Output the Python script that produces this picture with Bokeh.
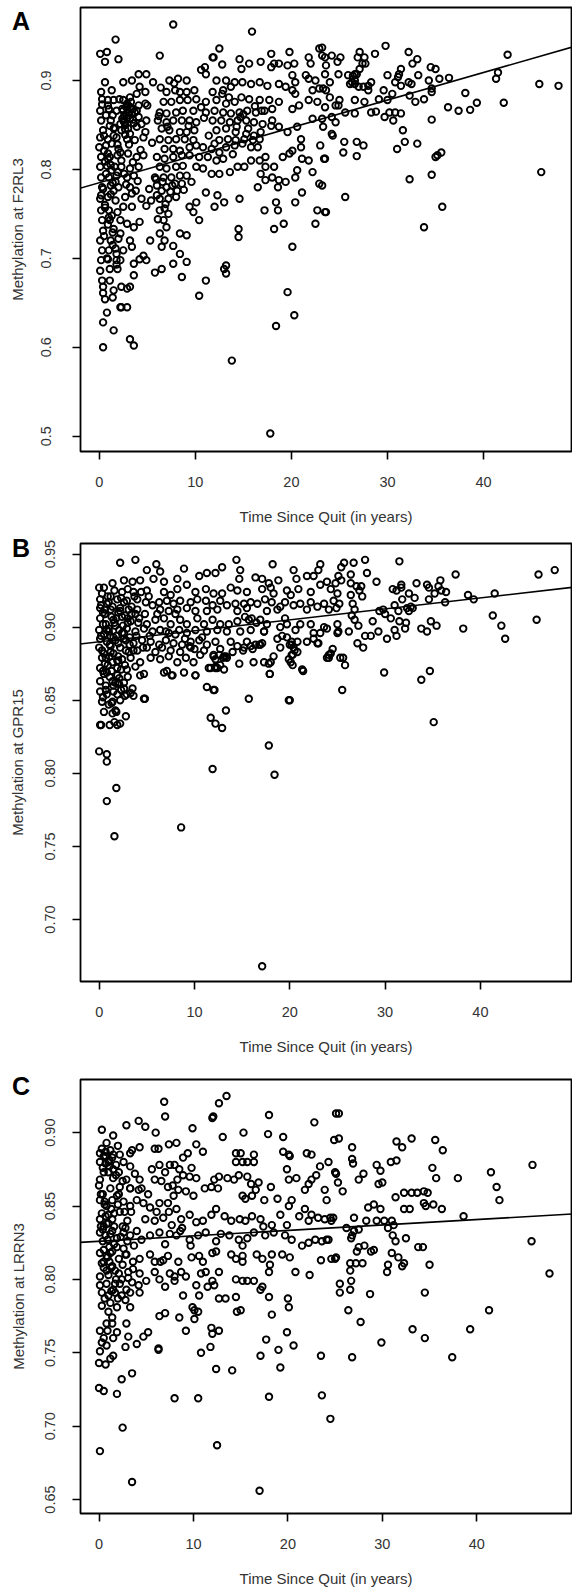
from bokeh.plotting import figure
from bokeh.models import Range1d, FixedTicker, Slope, Div
from bokeh.layouts import column
from bokeh.embed import file_html
from bokeh.resources import INLINE

FONT = "Liberation Sans"

# ---------------- Panel A : F2RL3 ----------------
A_years = [
    0.1, 0.8, 0.6, 2.0, 1.7, 0.6, 1.3, 0.2, 0.3, 0.9,
    1.5, 2.1, 0.1, 1.0, 1.8, 0.2, 1.2, 0.4, 1.5, 0.1,
    0.9, 1.8, 0.0, 0.7, 0.2, 1.1, 1.9, 0.1, 0.8, 1.6,
    0.2, 1.0, 1.8, 0.3, 1.2, 2.0, 0.1, 0.9, 1.7, 0.2,
    1.0, 1.9, 0.3, 1.1, 0.4, 1.5, 0.1, 1.2, 2.0, 0.3,
    1.0, 1.7, 0.2, 0.9, 1.8, 0.1, 1.1, 1.9, 0.3, 1.1,
    0.4, 1.5, 0.6, 1.4, 2.2, 0.8, 0.4, 1.5, 0.4,
    2.8, 3.1, 3.4, 2.6, 3.0, 3.5, 2.9, 3.3, 2.7, 3.6,
    0.5, 0.9, 1.2, 0.7, 1.4, 0.4, 1.2, 0.6, 1.3, 0.9,
    0.5, 1.4, 0.8,
    2.5, 3.4, 4.1, 4.9, 4.2, 5.6, 2.5, 3.2, 3.9, 4.8,
    2.5, 3.2, 4.1, 4.8, 2.5, 3.2, 4.1, 4.9, 2.3, 3.0,
    3.9, 4.8, 2.9, 3.7, 4.6, 2.2, 3.0, 3.9, 4.6, 2.3,
    3.2, 4.1, 2.9, 3.6, 3.2, 2.7, 3.4, 2.5, 3.4, 4.4,
    4.9, 2.2, 2.9, 3.6, 4.2, 2.2, 3.2, 3.4, 2.5, 1.8,
    2.2, 3.6, 4.2, 4.9, 4.6, 2.3, 2.9, 3.2, 2.3, 2.9,
    3.6, 3.2, 3.6, 5.3, 5.8, 6.5,
    6.3, 7.3, 8.2, 9.1, 7.0, 7.9, 8.4, 9.1, 9.9, 6.7,
    7.5, 8.4, 9.2, 10.1, 6.3, 7.0, 8.0, 8.7, 9.8, 6.1,
    7.0, 7.7, 8.6, 9.4, 10.1, 6.5, 7.3, 8.4, 9.1, 9.9,
    6.3, 7.2, 8.0, 8.9, 9.8, 6.8, 7.7, 8.4, 9.4, 10.1,
    6.0, 6.8, 7.7, 8.6, 9.4, 6.3, 7.0, 8.0, 8.7, 5.8,
    6.7, 7.5, 8.4, 9.1, 6.0, 6.5, 7.0, 7.9, 8.6, 5.4,
    6.3, 7.2, 8.0, 6.3, 6.8, 7.2, 6.7, 6.1, 7.0, 6.3,
    6.8, 6.5, 7.7, 8.4, 9.1, 8.4, 9.1, 7.7, 8.6, 9.4,
    10.1, 9.8, 10.4, 11.1, 12.0, 12.3, 13.0, 11.1, 10.4, 14.6,
    11.0, 11.8, 12.5, 11.1, 12.2, 13.2, 14.1, 14.9, 15.8, 16.7,
    17.5, 11.8, 12.9, 13.7, 14.8, 15.6, 16.7, 17.7, 18.7, 11.1,
    12.2, 13.2, 14.1, 11.1, 12.0, 12.9, 13.7, 14.6, 15.4, 16.3,
    17.2, 18.0, 11.8, 12.7, 13.6, 14.4, 15.3, 16.1, 17.0, 18.0,
    18.7, 12.2, 13.2, 14.2, 15.3, 16.1, 16.8, 17.9, 12.5, 13.4,
    14.2, 15.1, 16.0, 16.7, 10.8, 11.7, 12.5, 13.2, 14.1, 14.9,
    15.8, 16.5, 10.4, 11.3, 12.2, 12.9, 10.1, 10.8, 11.7, 12.5,
    13.6, 14.4, 15.1, 15.8, 16.7, 17.3, 18.2, 19.1, 19.8, 16.8,
    17.3, 16.5, 18.0, 18.7, 19.4, 18.6, 20.1, 21.0, 20.6, 20.4,
    21.1, 21.8, 22.2, 22.9, 23.0, 23.4, 21.1, 18.4, 18.6, 17.2,
    18.2, 19.2, 20.4, 20.1, 22.7, 23.6, 22.5, 14.5, 14.5, 13.2,
    13.2, 13.0, 19.6, 20.3, 18.4,
    14.6, 14.8, 15.6, 16.8, 17.9, 17.9, 18.2, 18.7, 19.6, 19.8,
    20.3, 20.1, 20.4, 20.1, 20.4, 21.8, 22.0, 22.9, 23.2, 23.6,
    21.8, 22.5, 22.9, 23.6, 21.8, 22.7, 20.8, 20.1, 22.2, 23.2,
    18.7, 19.4, 21.5, 22.2, 20.6, 19.6, 21.0, 17.3, 7.7, 15.9,
    13.8, 17.8, 12.8, 11.9, 10.6,
    23.2, 23.5, 24.2, 25.1, 24.8, 23.5, 24.9, 24.0, 23.3, 24.0,
    23.5, 24.6, 24.9, 25.6, 24.2, 24.6, 23.3, 24.2, 24.3, 25.5,
    25.4, 26.8, 27.5, 26.8, 23.5, 23.2, 25.6, 23.5, 26.6, 26.4,
    26.8, 26.3, 26.6, 27.1, 26.9, 27.4, 27.7, 27.1, 28.7, 29.8,
    25.9, 26.1, 28.0, 28.3, 28.0, 27.5, 26.6, 26.6, 27.6, 28.3,
    29.1, 29.6, 30.0, 30.0, 29.7, 30.6, 30.2, 30.8, 31.4, 30.5,
    30.8, 31.1, 31.4, 31.2, 31.4, 32.2, 32.6, 33.1, 32.2, 32.5,
    33.2, 32.9, 32.3, 33.8, 34.3, 34.5, 35.0, 34.6, 34.6, 35.4,
    36.4, 34.6, 31.6, 31.8, 31.0, 33.1, 35.0, 35.2, 35.6, 32.3,
    34.6, 35.7, 33.8, 36.3, 37.4, 38.6, 39.3, 38.1, 42.1, 41.3,
    41.5, 42.5, 45.8, 47.8, 46.0, 26.6, 27.0, 25.0, 27.6, 28.8,
]
A_methylation = [
    0.930, 0.932, 0.921, 0.924, 0.946, 0.898, 0.889, 0.887, 0.879, 0.878,
    0.878, 0.879, 0.866, 0.868, 0.866, 0.855, 0.855, 0.844, 0.846, 0.836,
    0.834, 0.836, 0.825, 0.827, 0.814, 0.814, 0.816, 0.803, 0.804, 0.803,
    0.791, 0.791, 0.793, 0.780, 0.782, 0.780, 0.767, 0.769, 0.765, 0.754,
    0.754, 0.752, 0.743, 0.743, 0.731, 0.733, 0.720, 0.720, 0.722, 0.709,
    0.709, 0.711, 0.698, 0.699, 0.698, 0.686, 0.688, 0.688, 0.675, 0.675,
    0.668, 0.664, 0.654, 0.656, 0.645, 0.639, 0.628, 0.619, 0.600,
    0.870, 0.865, 0.862, 0.860, 0.872, 0.868, 0.858, 0.876, 0.850, 0.852,
    0.838, 0.812, 0.805, 0.795, 0.785, 0.778, 0.772, 0.760, 0.748, 0.738,
    0.725, 0.715, 0.700,
    0.898, 0.900, 0.907, 0.907, 0.893, 0.898, 0.878, 0.881, 0.885, 0.887,
    0.866, 0.870, 0.872, 0.874, 0.855, 0.857, 0.859, 0.855, 0.844, 0.846,
    0.848, 0.842, 0.834, 0.833, 0.836, 0.819, 0.818, 0.814, 0.816, 0.803,
    0.801, 0.803, 0.791, 0.793, 0.780, 0.769, 0.773, 0.758, 0.758, 0.767,
    0.759, 0.743, 0.739, 0.735, 0.741, 0.728, 0.720, 0.713, 0.709, 0.705,
    0.698, 0.694, 0.699, 0.698, 0.703, 0.668, 0.666, 0.668, 0.645, 0.645,
    0.681, 0.609, 0.602, 0.720, 0.684, 0.688,
    0.928, 0.900, 0.902, 0.900, 0.887, 0.889, 0.887, 0.887, 0.889, 0.876,
    0.876, 0.878, 0.878, 0.879, 0.864, 0.863, 0.864, 0.866, 0.866, 0.855,
    0.853, 0.855, 0.855, 0.855, 0.853, 0.846, 0.844, 0.842, 0.842, 0.844,
    0.834, 0.833, 0.834, 0.834, 0.833, 0.823, 0.823, 0.821, 0.825, 0.827,
    0.814, 0.812, 0.814, 0.816, 0.816, 0.803, 0.801, 0.803, 0.804, 0.791,
    0.791, 0.791, 0.793, 0.793, 0.782, 0.776, 0.780, 0.784, 0.784, 0.765,
    0.767, 0.767, 0.769, 0.754, 0.756, 0.750, 0.743, 0.744, 0.735, 0.728,
    0.720, 0.713, 0.714, 0.728, 0.726, 0.705, 0.696, 0.694, 0.679, 0.758,
    0.763, 0.752, 0.743, 0.774, 0.758, 0.771, 0.763, 0.675, 0.658, 0.767,
    0.915, 0.926, 0.936, 0.907, 0.900, 0.900, 0.898, 0.898, 0.896, 0.898,
    0.894, 0.887, 0.889, 0.893, 0.881, 0.879, 0.878, 0.878, 0.876, 0.876,
    0.878, 0.874, 0.876, 0.864, 0.866, 0.864, 0.863, 0.864, 0.866, 0.864,
    0.866, 0.868, 0.855, 0.855, 0.853, 0.855, 0.855, 0.853, 0.851, 0.855,
    0.848, 0.844, 0.846, 0.842, 0.840, 0.838, 0.842, 0.849, 0.833, 0.834,
    0.833, 0.834, 0.833, 0.834, 0.825, 0.823, 0.819, 0.825, 0.827, 0.829,
    0.825, 0.825, 0.814, 0.814, 0.810, 0.812, 0.803, 0.801, 0.795, 0.795,
    0.797, 0.803, 0.803, 0.810, 0.810, 0.803, 0.803, 0.814, 0.818, 0.795,
    0.788, 0.780, 0.791, 0.788, 0.786, 0.780, 0.821, 0.825, 0.799, 0.791,
    0.812, 0.810, 0.797, 0.784, 0.827, 0.812, 0.774, 0.763, 0.754, 0.754,
    0.733, 0.739, 0.763, 0.713, 0.754, 0.752, 0.739, 0.733, 0.724, 0.692,
    0.683, 0.688, 0.662, 0.636, 0.624,
    0.924, 0.913, 0.919, 0.921, 0.930, 0.915, 0.919, 0.919, 0.917, 0.932,
    0.919, 0.906, 0.898, 0.889, 0.885, 0.926, 0.919, 0.936, 0.928, 0.917,
    0.902, 0.900, 0.891, 0.889, 0.878, 0.876, 0.872, 0.868, 0.857, 0.857,
    0.896, 0.893, 0.906, 0.889, 0.848, 0.842, 0.834, 0.814, 0.963, 0.955,
    0.585, 0.503, 0.918, 0.926, 0.912,
    0.937, 0.926, 0.928, 0.926, 0.921, 0.907, 0.907, 0.898, 0.891, 0.881,
    0.870, 0.872, 0.872, 0.864, 0.859, 0.853, 0.848, 0.840, 0.838, 0.831,
    0.819, 0.831, 0.827, 0.815, 0.812, 0.782, 0.769, 0.752, 0.907, 0.905,
    0.907, 0.898, 0.896, 0.932, 0.926, 0.919, 0.919, 0.913, 0.930, 0.939,
    0.906, 0.896, 0.894, 0.898, 0.889, 0.893, 0.878, 0.863, 0.876, 0.864,
    0.879, 0.889, 0.906, 0.878, 0.859, 0.855, 0.864, 0.864, 0.863, 0.885,
    0.898, 0.904, 0.913, 0.907, 0.894, 0.932, 0.919, 0.924, 0.898, 0.896,
    0.906, 0.876, 0.883, 0.879, 0.900, 0.915, 0.913, 0.891, 0.887, 0.902,
    0.903, 0.856, 0.844, 0.831, 0.823, 0.829, 0.814, 0.816, 0.819, 0.789,
    0.794, 0.758, 0.735, 0.870, 0.866, 0.867, 0.875, 0.886, 0.875, 0.902,
    0.909, 0.929, 0.896, 0.894, 0.797, 0.900, 0.893, 0.878, 0.926, 0.865,
]
# extra points read in the densest part of panel A
A_years_dense = [
    1.4, 2.4, 3.9, 1.6, 2.7, 4.4, 1.3, 2.0, 3.1, 4.3,
    0.6, 2.3, 3.5, 1.9, 2.6, 4.0, 1.5, 2.8, 3.8, 0.9,
    5.9, 6.6, 7.4, 8.1, 5.2, 6.0, 6.9, 7.6, 8.8, 9.6,
    5.5, 6.2, 7.1, 5.0, 6.4, 7.8, 9.3, 10.6, 11.4, 12.8,
    13.5, 14.3, 15.0, 16.2, 13.9, 15.5, 10.9, 12.0, 14.7, 16.9,
    2.4, 2.9, 3.3, 3.7, 2.6, 3.1, 3.5, 2.2, 2.7, 3.2,
    0.3, 0.7, 1.1, 1.5, 1.9, 0.5, 0.9, 1.3, 1.7, 0.2,
    0.6, 1.0, 1.4, 1.8, 0.4,
]
A_methylation_dense = [
    0.861, 0.857, 0.866, 0.847, 0.839, 0.851, 0.829, 0.823, 0.828, 0.822,
    0.809, 0.810, 0.808, 0.797, 0.795, 0.787, 0.776, 0.783, 0.776, 0.872,
    0.789, 0.786, 0.775, 0.776, 0.778, 0.771, 0.761, 0.782, 0.777, 0.786,
    0.830, 0.860, 0.848, 0.872, 0.892, 0.897, 0.849, 0.870, 0.838, 0.885,
    0.881, 0.848, 0.862, 0.871, 0.817, 0.846, 0.858, 0.829, 0.859, 0.866,
    0.868, 0.874, 0.869, 0.864, 0.853, 0.861, 0.856, 0.851, 0.845, 0.840,
    0.873, 0.861, 0.849, 0.838, 0.828, 0.821, 0.818, 0.799, 0.786, 0.771,
    0.757, 0.746, 0.729, 0.693, 0.661,
]

# ---------------- Panel B : GPR15 ----------------
B_years = [
    2.2, 3.8, 6.0, 6.4, 5.0, 5.7, 6.8, 8.2, 8.9, 10.5,
    11.3, 12.2, 12.9, 14.4, 14.8, 14.7, 16.4, 17.1, 18.2, 17.8,
    18.8, 20.4, 20.7, 21.8, 22.5, 23.0, 23.2, 23.9, 24.8, 25.1,
    0.0, 0.5, 1.4, 2.6, 3.5, 4.3, 2.4, 5.0, 6.8, 7.5,
    8.2, 9.2, 10.1, 11.2, 12.0, 12.9, 13.8, 14.5, 15.5, 17.1,
    18.0, 18.3, 19.7, 20.9, 22.2, 23.2, 24.3, 25.0, 20.1, 3.6,
    0.1, 0.8, 1.9, 2.9, 4.0, 4.9, 5.6, 6.3, 7.1, 7.8,
    8.5, 9.6, 10.3, 11.2, 11.9, 12.7, 13.4, 14.3, 15.2, 15.9,
    16.6, 17.4, 18.1, 19.0, 19.5, 20.4, 21.1, 22.2, 22.9, 23.6,
    24.6, 0.1, 1.2, 2.2, 3.1, 4.0, 6.4, 7.3, 8.2, 9.2,
    10.1, 11.3, 12.4, 14.5, 15.5, 17.6, 18.7, 21.8, 24.1, 1.2,
    0.1, 0.7, 1.5, 2.4, 3.3, 4.2, 5.0, 5.9, 6.8, 7.5,
    8.5, 9.2, 10.3, 11.0, 11.9, 12.7, 13.6, 14.5, 15.3, 15.7,
    16.0, 16.9, 17.6, 19.0, 19.7, 21.1, 22.2, 23.6, 25.0, 0.0,
    1.0, 2.1, 2.9, 3.8, 4.7, 5.6, 6.4, 7.3, 8.4, 9.2,
    10.1, 11.3, 12.4, 13.4, 14.8, 15.9, 17.3, 19.2, 20.6, 22.5,
    23.9, 0.4, 1.7, 3.0, 2.6,
    0.1, 0.8, 1.7, 2.6, 3.6, 4.5, 5.4, 6.3, 7.0, 7.8,
    8.7, 9.6, 10.5, 11.3, 12.2, 12.7, 13.8, 14.5, 15.5, 16.4,
    17.1, 18.7, 19.7, 20.2, 20.8, 21.8, 22.5, 0.0, 1.2, 2.2,
    3.1, 4.0, 5.0, 5.9, 6.6, 7.5, 8.5, 9.6, 11.0, 12.0,
    13.1, 14.0, 15.2, 15.9, 16.9, 19.0, 20.4, 22.9, 0.5, 1.5,
    0.3, 1.4, 2.4, 3.3, 4.3, 5.4, 6.4, 7.3, 8.2, 9.1,
    9.9, 10.6, 12.0, 13.4, 12.2, 12.7, 13.1, 0.1, 0.8, 1.9,
    2.9, 3.8, 4.3, 4.7, 6.8, 7.7, 8.9, 10.1, 11.5, 12.4,
    13.3, 14.7, 16.2, 17.3, 18.3, 19.9, 20.2, 21.3, 20.8, 24.1,
    23.9, 23.0, 25.3, 24.3, 23.2, 25.0, 1.1, 2.0, 0.6, 3.0,
    0.1, 0.7, 1.4, 2.1, 0.1, 0.8, 1.5, 2.6, 3.3, 3.5,
    4.7, 0.3, 1.0, 1.4, 1.7, 0.5, 1.4, 2.8, 0.1, 1.6,
    2.2, 1.9, 2.9, 2.2, 11.3, 12.0, 15.7, 11.7, 12.2, 12.9,
    13.3, 17.8, 17.9, 19.9, 17.8, 0.0, 0.8, 0.8, 0.2, 0.8,
    1.8, 1.6, 11.9, 8.6, 18.4, 17.1, 1.1, 1.9, 12.1, 20.0,
    2.0, 1.8, 1.3, 0.4, 3.6, 2.7, 4.8, 7.1, 7.6, 10.1,
    25.5, 25.6, 25.8, 24.5, 24.1, 21.4, 20.3, 20.1, 20.3, 20.5,
    20.0, 17.9, 18.0, 17.3, 16.8, 16.1, 15.1, 13.0, 12.6, 12.2,
    12.2, 11.7, 20.2, 16.5, 19.5,
    25.4, 25.7, 26.7, 27.9, 26.4, 28.1, 25.4, 26.4, 27.0, 27.5,
    27.3, 27.6, 26.4, 26.6, 26.8, 26.5, 26.8, 27.2, 25.2, 24.9,
    25.1, 26.2, 27.1, 27.7, 27.9, 28.5, 28.7, 29.1, 29.4, 29.8,
    30.0, 30.2, 29.3, 29.9, 30.6, 30.8, 31.0, 31.2, 31.5, 31.7,
    31.7, 31.4, 31.5, 31.2, 31.0, 32.2, 32.1, 32.3, 32.5, 32.7,
    32.9, 33.1, 33.3, 32.5, 31.8, 33.8, 34.4, 34.4, 34.6, 34.8,
    35.4, 34.6, 35.2, 35.6, 35.8, 35.9, 36.4, 36.3, 33.8, 34.7,
    35.1, 37.4, 38.2, 38.7, 39.3, 41.3, 41.5, 42.2, 42.6, 45.9,
    46.1, 47.8, 9.5, 10.8, 8.0,
]
B_methylation = [
    0.944, 0.946, 0.943, 0.938, 0.939, 0.933, 0.931, 0.933, 0.940, 0.935,
    0.937, 0.937, 0.941, 0.946, 0.939, 0.933, 0.934, 0.933, 0.943, 0.930,
    0.932, 0.939, 0.933, 0.935, 0.935, 0.939, 0.943, 0.931, 0.930, 0.935,
    0.927, 0.927, 0.930, 0.932, 0.931, 0.932, 0.924, 0.925, 0.924, 0.922,
    0.926, 0.929, 0.924, 0.926, 0.923, 0.923, 0.927, 0.925, 0.924, 0.926,
    0.927, 0.923, 0.925, 0.926, 0.924, 0.929, 0.926, 0.923, 0.922, 0.924,
    0.919, 0.916, 0.919, 0.918, 0.919, 0.917, 0.915, 0.917, 0.918, 0.916,
    0.918, 0.917, 0.919, 0.918, 0.915, 0.918, 0.915, 0.916, 0.916, 0.917,
    0.916, 0.919, 0.917, 0.914, 0.917, 0.915, 0.916, 0.917, 0.914, 0.916,
    0.918, 0.913, 0.912, 0.913, 0.912, 0.912, 0.912, 0.911, 0.912, 0.913,
    0.911, 0.911, 0.912, 0.911, 0.913, 0.911, 0.912, 0.912, 0.912, 0.921,
    0.906, 0.902, 0.905, 0.907, 0.904, 0.906, 0.902, 0.905, 0.906, 0.902,
    0.905, 0.902, 0.906, 0.902, 0.905, 0.902, 0.902, 0.904, 0.907, 0.905,
    0.906, 0.905, 0.902, 0.900, 0.902, 0.902, 0.902, 0.900, 0.902, 0.898,
    0.897, 0.898, 0.899, 0.897, 0.899, 0.897, 0.898, 0.896, 0.898, 0.896,
    0.898, 0.897, 0.898, 0.897, 0.897, 0.898, 0.897, 0.894, 0.898, 0.896,
    0.899, 0.910, 0.901, 0.903, 0.896,
    0.892, 0.890, 0.891, 0.892, 0.889, 0.891, 0.890, 0.888, 0.891, 0.889,
    0.888, 0.890, 0.891, 0.888, 0.890, 0.885, 0.890, 0.887, 0.890, 0.888,
    0.889, 0.892, 0.893, 0.888, 0.890, 0.890, 0.892, 0.886, 0.883, 0.886,
    0.883, 0.884, 0.886, 0.883, 0.886, 0.884, 0.883, 0.886, 0.884, 0.881,
    0.880, 0.883, 0.886, 0.887, 0.888, 0.886, 0.886, 0.889, 0.895, 0.893,
    0.879, 0.876, 0.878, 0.879, 0.876, 0.879, 0.878, 0.880, 0.876, 0.879,
    0.876, 0.881, 0.880, 0.879, 0.873, 0.874, 0.871, 0.872, 0.869, 0.872,
    0.871, 0.873, 0.867, 0.868, 0.869, 0.867, 0.869, 0.867, 0.872, 0.872,
    0.880, 0.875, 0.876, 0.876, 0.880, 0.878, 0.881, 0.871, 0.883, 0.881,
    0.879, 0.889, 0.879, 0.882, 0.896, 0.896, 0.880, 0.877, 0.875, 0.866,
    0.863, 0.860, 0.863, 0.861, 0.856, 0.854, 0.856, 0.858, 0.855, 0.858,
    0.851, 0.849, 0.847, 0.849, 0.843, 0.842, 0.841, 0.839, 0.833, 0.835,
    0.834, 0.854, 0.854, 0.850, 0.859, 0.857, 0.851, 0.838, 0.834, 0.831,
    0.843, 0.875, 0.868, 0.850, 0.819, 0.815, 0.813, 0.808, 0.833, 0.781,
    0.790, 0.757, 0.803, 0.763, 0.799, 0.668, 0.833, 0.833, 0.857, 0.850,
    0.862, 0.842, 0.848, 0.852, 0.853, 0.853, 0.851, 0.870, 0.867, 0.867,
    0.857, 0.879, 0.874, 0.885, 0.879, 0.870, 0.874, 0.876, 0.881, 0.884,
    0.888, 0.868, 0.876, 0.897, 0.888, 0.885, 0.884, 0.879, 0.881, 0.878,
    0.872, 0.872, 0.890, 0.903, 0.906,
    0.941, 0.944, 0.944, 0.946, 0.936, 0.937, 0.932, 0.930, 0.928, 0.928,
    0.925, 0.921, 0.922, 0.916, 0.912, 0.908, 0.905, 0.901, 0.916, 0.913,
    0.897, 0.897, 0.889, 0.886, 0.894, 0.894, 0.904, 0.931, 0.911, 0.912,
    0.909, 0.892, 0.897, 0.869, 0.906, 0.926, 0.915, 0.925, 0.945, 0.929,
    0.927, 0.911, 0.904, 0.894, 0.898, 0.903, 0.899, 0.913, 0.911, 0.914,
    0.913, 0.920, 0.930, 0.923, 0.919, 0.899, 0.897, 0.929, 0.927, 0.904,
    0.901, 0.919, 0.923, 0.928, 0.932, 0.925, 0.924, 0.917, 0.864, 0.870,
    0.835, 0.936, 0.899, 0.922, 0.919, 0.908, 0.923, 0.901, 0.892, 0.905,
    0.936, 0.939, 0.887, 0.893, 0.895,
]
B_years_dense = [
    0.3, 0.9, 1.6, 2.3, 3.0, 3.7, 4.4, 5.2, 0.6, 1.3,
    2.0, 2.7, 3.4, 4.1, 4.8, 0.2, 1.0, 1.8, 2.5, 3.2,
    3.9, 4.6, 5.3, 0.5, 1.2, 2.0, 2.8, 3.6, 0.4, 1.1,
    1.9, 2.6, 0.7, 1.5, 2.3, 6.1, 7.0, 8.0, 9.0, 10.0,
    0.2, 0.6, 1.0, 1.4, 1.8, 2.2, 2.6, 3.0, 3.4, 3.8,
    0.4, 0.8, 1.2, 1.6, 2.0, 2.4, 2.8, 3.2, 0.3, 0.7,
    1.1, 1.5, 1.9, 2.3, 2.7, 0.5, 0.9, 1.3, 1.7, 2.1,
]
B_methylation_dense = [
    0.923, 0.921, 0.925, 0.920, 0.926, 0.921, 0.924, 0.921, 0.909, 0.907,
    0.910, 0.908, 0.909, 0.903, 0.909, 0.894, 0.899, 0.894, 0.901, 0.893,
    0.894, 0.886, 0.894, 0.882, 0.887, 0.880, 0.884, 0.884, 0.870, 0.866,
    0.867, 0.862, 0.857, 0.860, 0.857, 0.909, 0.897, 0.909, 0.892, 0.885,
    0.915, 0.912, 0.917, 0.914, 0.906, 0.911, 0.917, 0.906, 0.914, 0.909,
    0.902, 0.898, 0.894, 0.903, 0.889, 0.896, 0.891, 0.888, 0.884, 0.879,
    0.888, 0.882, 0.877, 0.871, 0.874, 0.868, 0.874, 0.870, 0.862, 0.865,
]

# ---------------- Panel C : LRRN3 ----------------
C_years = [
    6.9, 12.7, 7.0, 12.1, 18.0, 22.8, 9.9, 15.3, 17.9, 13.1,
    19.5, 25.1, 24.9, 0.3, 1.5, 0.8, 2.9, 4.2, 4.9, 6.0,
    13.5, 12.0, 0.1, 1.2, 1.5, 2.2, 3.3, 3.5, 4.3, 5.9,
    6.3, 7.4, 8.2, 10.3, 14.5, 15.0, 14.5, 15.2, 15.7, 16.4,
    16.4, 19.5, 20.1, 20.2, 22.0, 22.5, 24.3, 23.4, 11.0, 8.9,
    9.4, 0.5, 1.0, 2.0, 0.7,
    0.1, 0.5, 0.1, 0.0, 0.7, 1.4, 1.0, 1.5, 2.1, 2.6,
    3.3, 3.8, 4.3, 2.9, 2.2, 3.3, 4.2, 5.6, 6.4, 7.0,
    7.5, 8.0, 8.5, 8.9, 9.8, 9.6, 10.3, 5.9, 6.6, 7.3,
    7.8, 8.4, 9.2, 10.0, 11.2, 11.9, 12.6, 12.2, 12.7, 13.6,
    14.3, 14.8, 15.7, 16.1, 16.9, 16.6, 15.2, 15.5, 16.2, 17.5,
    18.2, 18.9, 19.9, 20.1, 20.9, 21.8, 22.2, 22.5, 23.0, 23.9,
    24.1, 25.1, 1.8, 0.4, 1.2,
    0.1, 0.3, 0.1, 0.7, 0.8, 1.4, 1.9, 2.6, 3.3, 4.0,
    4.7, 5.4, 6.4, 7.3, 8.2, 8.7, 9.6, 10.3, 4.9, 5.9,
    6.8, 7.7, 11.0, 11.9, 12.4, 13.3, 14.0, 14.9, 15.5, 16.2,
    17.1, 17.4, 18.3, 19.2, 19.9, 20.1, 20.4, 21.2, 21.8, 22.2,
    22.5, 23.2, 23.9, 24.8, 1.0, 2.2, 3.0, 1.6, 0.5, 2.8,
    0.1, 0.7, 1.4, 1.9, 2.6, 3.3, 4.0, 4.5, 5.4, 6.4,
    7.5, 8.2, 8.6, 9.6, 10.5, 11.3, 12.4, 12.9, 13.8, 14.8,
    15.2, 15.7, 16.4, 17.6, 18.5, 19.7, 20.4, 21.5, 22.2, 22.9,
    23.6, 24.3, 25.0, 0.4, 1.1,
    0.1, 0.8, 1.4, 2.1, 2.8, 3.6, 4.3, 5.4, 5.9, 6.8,
    7.3, 8.4, 9.8, 10.6, 11.0, 12.0, 12.4, 14.0, 14.5, 15.2,
    15.2, 16.7, 17.3, 18.3, 19.4, 20.2, 20.8, 22.3, 0.1, 0.8,
    1.4, 2.1, 3.1, 3.6, 4.3, 5.0, 5.9, 7.5, 8.0, 8.7,
    10.8, 11.3, 12.0, 12.7, 14.5, 15.2, 15.7, 16.4, 17.1, 18.0,
    18.1, 1.1, 0.5, 1.8, 2.5,
    0.1, 0.8, 1.5, 2.2, 2.9, 3.5, 4.2, 0.3, 1.0, 1.7,
    2.4, 3.3, 4.3, 0.3, 1.2, 1.9, 2.8, 3.3, 1.0, 1.4,
    6.4, 7.0, 8.0, 8.9, 10.3, 10.6, 11.5, 12.2, 12.7, 13.4,
    14.5, 17.3, 18.0, 20.0, 20.1,
    6.4, 7.0, 8.5, 9.9, 10.1, 10.5, 10.1, 14.6, 15.0, 18.3,
    0.1, 0.5, 0.8, 0.1, 0.0, 0.7, 1.5, 1.9, 2.9, 3.1,
    2.8, 4.0, 4.7, 5.2, 6.3, 9.2, 11.9, 12.0, 12.7, 10.8,
    11.8, 17.1, 17.7, 19.0, 19.9, 20.6, 19.2, 12.4, 14.1, 23.5,
    2.4, 3.5, 0.0, 0.5, 1.9, 8.0, 10.5, 18.0, 23.6, 0.1,
    2.5, 3.5, 12.5, 17.0, 24.5, 6.3, 1.2, 0.3, 1.4, 0.9,
    25.4, 25.4, 26.8, 26.8, 26.9, 25.0, 25.3, 25.8, 28.0, 27.5,
    29.4, 29.8, 29.6, 29.1, 29.8, 30.9, 31.5, 31.5, 32.1, 33.1,
    31.4, 32.3, 33.1, 33.7, 34.4, 34.8, 32.3, 32.9, 34.4, 34.6,
    35.4, 36.3, 35.3, 35.7, 35.6, 36.4, 38.0, 38.6, 41.5, 42.1,
    42.4, 45.9, 45.8, 47.7, 41.3, 39.3, 37.4, 34.5, 33.2, 34.5,
    35.0, 32.5, 31.4, 31.1, 30.6, 30.2, 31.0, 31.2, 29.4, 28.3,
    30.6, 30.5, 32.1, 32.3, 31.0, 31.7, 33.8, 34.3, 29.1, 28.1,
    27.5, 27.3, 27.9, 27.2, 26.6, 26.6, 26.7, 26.6, 25.5, 25.5,
    28.7, 26.4, 27.7, 26.8, 29.9, 26.8, 26.7, 27.0, 26.2, 27.0,
    27.5, 24.6, 24.5, 24.1, 23.5, 24.6, 25.1, 28.8, 30.0, 28.5,
]
C_methylation = [
    0.921, 0.920, 0.911, 0.911, 0.912, 0.907, 0.903, 0.900, 0.899, 0.897,
    0.897, 0.913, 0.895, 0.902, 0.898, 0.893, 0.905, 0.908, 0.904, 0.900,
    0.925, 0.910, 0.886, 0.888, 0.885, 0.885, 0.886, 0.888, 0.890, 0.889,
    0.889, 0.892, 0.893, 0.892, 0.886, 0.886, 0.880, 0.880, 0.880, 0.880,
    0.885, 0.887, 0.885, 0.884, 0.886, 0.885, 0.880, 0.877, 0.887, 0.883,
    0.886, 0.884, 0.880, 0.891, 0.887,
    0.880, 0.873, 0.868, 0.864, 0.879, 0.883, 0.873, 0.869, 0.873, 0.880,
    0.877, 0.872, 0.868, 0.868, 0.863, 0.862, 0.861, 0.875, 0.878, 0.873,
    0.878, 0.878, 0.875, 0.871, 0.876, 0.870, 0.869, 0.868, 0.867, 0.863,
    0.864, 0.861, 0.860, 0.857, 0.862, 0.863, 0.862, 0.868, 0.870, 0.869,
    0.868, 0.871, 0.870, 0.865, 0.866, 0.861, 0.857, 0.855, 0.857, 0.854,
    0.863, 0.855, 0.875, 0.868, 0.869, 0.861, 0.865, 0.868, 0.871, 0.861,
    0.854, 0.872, 0.878, 0.858, 0.862,
    0.854, 0.845, 0.841, 0.843, 0.850, 0.854, 0.857, 0.853, 0.850, 0.854,
    0.852, 0.849, 0.852, 0.852, 0.848, 0.841, 0.844, 0.839, 0.841, 0.840,
    0.842, 0.837, 0.840, 0.844, 0.848, 0.843, 0.840, 0.841, 0.840, 0.843,
    0.841, 0.836, 0.837, 0.844, 0.837, 0.850, 0.854, 0.843, 0.848, 0.840,
    0.844, 0.842, 0.841, 0.842, 0.838, 0.846, 0.840, 0.845, 0.836, 0.835,
    0.832, 0.830, 0.833, 0.828, 0.832, 0.830, 0.833, 0.827, 0.830, 0.832,
    0.831, 0.830, 0.833, 0.827, 0.830, 0.832, 0.826, 0.831, 0.830, 0.827,
    0.823, 0.828, 0.832, 0.830, 0.832, 0.830, 0.827, 0.823, 0.825, 0.827,
    0.826, 0.827, 0.814, 0.826, 0.822,
    0.818, 0.816, 0.819, 0.814, 0.817, 0.812, 0.814, 0.817, 0.812, 0.813,
    0.816, 0.812, 0.815, 0.816, 0.812, 0.818, 0.819, 0.817, 0.814, 0.816,
    0.812, 0.817, 0.814, 0.817, 0.817, 0.815, 0.805, 0.803, 0.802, 0.806,
    0.809, 0.804, 0.805, 0.807, 0.804, 0.799, 0.805, 0.804, 0.799, 0.805,
    0.804, 0.805, 0.799, 0.805, 0.800, 0.799, 0.799, 0.799, 0.793, 0.805,
    0.810, 0.812, 0.808, 0.800, 0.810,
    0.796, 0.797, 0.793, 0.797, 0.793, 0.798, 0.796, 0.791, 0.789, 0.791,
    0.789, 0.791, 0.791, 0.782, 0.784, 0.781, 0.786, 0.781, 0.778, 0.774,
    0.800, 0.795, 0.802, 0.789, 0.796, 0.789, 0.795, 0.796, 0.787, 0.787,
    0.788, 0.795, 0.788, 0.787, 0.781,
    0.775, 0.777, 0.774, 0.781, 0.779, 0.778, 0.773, 0.778, 0.779, 0.776,
    0.765, 0.760, 0.755, 0.751, 0.743, 0.742, 0.748, 0.764, 0.770, 0.761,
    0.754, 0.756, 0.761, 0.764, 0.753, 0.765, 0.767, 0.763, 0.765, 0.750,
    0.754, 0.748, 0.759, 0.752, 0.764, 0.755, 0.740, 0.739, 0.738, 0.748,
    0.732, 0.736, 0.726, 0.724, 0.722, 0.719, 0.719, 0.720, 0.721, 0.683,
    0.699, 0.662, 0.687, 0.656, 0.705, 0.752, 0.746, 0.757, 0.770, 0.765,
    0.913, 0.896, 0.890, 0.882, 0.879, 0.873, 0.866, 0.860, 0.872, 0.868,
    0.878, 0.874, 0.865, 0.851, 0.848, 0.880, 0.881, 0.894, 0.890, 0.896,
    0.856, 0.859, 0.859, 0.859, 0.860, 0.859, 0.848, 0.848, 0.852, 0.850,
    0.851, 0.848, 0.876, 0.869, 0.895, 0.888, 0.869, 0.843, 0.873, 0.863,
    0.854, 0.878, 0.826, 0.804, 0.779, 0.766, 0.747, 0.760, 0.766, 0.791,
    0.810, 0.828, 0.826, 0.830, 0.835, 0.840, 0.840, 0.837, 0.840, 0.840,
    0.810, 0.805, 0.809, 0.811, 0.818, 0.815, 0.822, 0.822, 0.820, 0.823,
    0.822, 0.819, 0.811, 0.811, 0.811, 0.806, 0.799, 0.793, 0.797, 0.791,
    0.790, 0.779, 0.771, 0.747, 0.757, 0.830, 0.828, 0.842, 0.835, 0.833,
    0.834, 0.840, 0.842, 0.827, 0.813, 0.814, 0.815, 0.819, 0.866, 0.849,
]
C_years_dense = [
    0.4, 1.1, 1.8, 2.5, 0.6, 1.3, 2.0, 2.7, 3.4, 0.2,
    0.9, 1.6, 2.3, 3.0, 3.7, 0.5, 1.2, 1.9, 2.6, 0.3,
    1.0, 1.7, 2.4, 3.1, 0.6, 1.3, 2.0, 0.8, 1.5, 4.5,
    5.2, 6.1, 7.0, 7.9, 8.8, 9.7, 6.5, 7.4, 8.3, 9.2,
    0.3, 0.7, 1.1, 1.5, 0.2, 0.6, 1.0, 1.4, 0.4, 0.8,
    1.2, 1.6, 0.5, 0.9, 1.3, 1.7, 2.1, 2.5, 2.9, 3.3,
]
C_methylation_dense = [
    0.876, 0.877, 0.871, 0.867, 0.851, 0.848, 0.851, 0.846, 0.846, 0.836,
    0.827, 0.836, 0.829, 0.826, 0.823, 0.820, 0.818, 0.822, 0.821, 0.811,
    0.803, 0.806, 0.800, 0.801, 0.787, 0.792, 0.787, 0.770, 0.760, 0.862,
    0.858, 0.846, 0.824, 0.857, 0.835, 0.823, 0.812, 0.846, 0.868, 0.802,
    0.889, 0.884, 0.881, 0.875, 0.858, 0.853, 0.844, 0.841, 0.834, 0.838,
    0.831, 0.824, 0.812, 0.815, 0.808, 0.797, 0.858, 0.836, 0.817, 0.862,
]

# axis ticks and labels
X_TICKS = [0, 10, 20, 30, 40]
A_Y_TICKS = [0.5, 0.6, 0.7, 0.8, 0.9]
A_Y_LABELS = ["0.5", "0.6", "0.7", "0.8", "0.9"]
B_Y_TICKS = [0.70, 0.75, 0.80, 0.85, 0.90, 0.95]
B_Y_LABELS = ["0.70", "0.75", "0.80", "0.85", "0.90", "0.95"]
C_Y_TICKS = [0.65, 0.70, 0.75, 0.80, 0.85, 0.90]
C_Y_LABELS = ["0.65", "0.70", "0.75", "0.80", "0.85", "0.90"]
X_TITLE = "Time Since Quit (in years)"

# fitted regression lines (intercept, slope)
A_FIT = (0.785, 0.0031)
B_FIT = (0.890, 0.00075)
C_FIT = (0.826, 0.00037)

for xs, ys in ((A_years, A_methylation), (B_years, B_methylation),
               (C_years, C_methylation), (A_years_dense, A_methylation_dense),
               (B_years_dense, B_methylation_dense),
               (C_years_dense, C_methylation_dense)):
    assert len(xs) == len(ys), (len(xs), len(ys))


def panel(xs, ys, gene, yticks, ylabels, fit, xr, yr, W, H, bl, bt, bb,
          ystand, ytitle_stand, xstand, xtitle_stand):
    p = figure(width=W, height=H, x_range=Range1d(*xr), y_range=Range1d(*yr),
               output_backend="svg", toolbar_location=None,
               min_border_left=bl, min_border_right=1, min_border_top=bt,
               min_border_bottom=bb)
    p.grid.visible = False
    p.background_fill_color = "white"
    p.border_fill_color = None
    p.outline_line_color = "black"
    p.outline_line_width = 1.8

    for ax in (p.xaxis[0], p.yaxis[0]):
        ax.axis_line_color = None
        ax.major_tick_in = 0
        ax.major_tick_out = 8
        ax.major_tick_line_width = 1.6
        ax.major_tick_line_color = "black"
        ax.minor_tick_line_color = None
        ax.major_label_text_font = FONT
        ax.major_label_text_font_size = "14.5px"
        ax.major_label_text_color = "#333333"
        ax.axis_label_text_font = FONT
        ax.axis_label_text_font_size = "15px"
        ax.axis_label_text_font_style = "normal"
        ax.axis_label_text_color = "#333333"

    p.xaxis.ticker = FixedTicker(ticks=X_TICKS, minor_ticks=[])
    p.xaxis.major_label_overrides = {t: str(t) for t in X_TICKS}
    p.xaxis.axis_label = X_TITLE
    p.xaxis.major_label_standoff = xstand
    p.xaxis.axis_label_standoff = xtitle_stand

    p.yaxis.ticker = FixedTicker(ticks=yticks, minor_ticks=[])
    p.yaxis.major_label_overrides = dict(zip(yticks, ylabels))
    p.yaxis.major_label_orientation = "vertical"
    p.yaxis.axis_label = "Methylation at " + gene
    p.yaxis.major_label_standoff = ystand
    p.yaxis.axis_label_standoff = ytitle_stand

    p.scatter(xs, ys, marker="circle", size=6.5, fill_color=None,
              line_color="black", line_width=1.9)
    p.add_layout(Slope(gradient=fit[1], y_intercept=fit[0],
                       line_color="black", line_width=1.6))
    return p


def letter(text, fig_height, top_offset):
    # panel letter drawn over the figure's left border (zero net height)
    h = 30
    return Div(text=('<div style="font-family:\'Liberation Sans\',Arial,sans-serif;'
                     'font-weight:bold;font-size:25px;line-height:25px;'
                     'color:#000;">' + text + '</div>'),
               width=30, height=h,
               margin=(-(fig_height - top_offset), 0,
                       fig_height - top_offset - h, 12))


W = 572
HA, HB, HC = 528, 535, 526
pa = panel(A_years + A_years_dense, A_methylation + A_methylation_dense,
           "F2RL3", A_Y_TICKS, A_Y_LABELS, A_FIT,
           (-1.95, 49.15), (0.4828, 0.9821), W, HA, 77, 7, 77,
           21, 13, 17, 18)
pb = panel(B_years + B_years_dense, B_methylation + B_methylation_dense,
           "GPR15", B_Y_TICKS, B_Y_LABELS, B_FIT,
           (-1.96, 49.56), (0.6576, 0.9572), W, HB, 80, 15, 82,
           17, 17, 17, 18)
pc = panel(C_years + C_years_dense, C_methylation + C_methylation_dense,
           "LRRN3", C_Y_TICKS, C_Y_LABELS, C_FIT,
           (-1.96, 50.03), (0.6405, 0.9362), W, HC, 76, 16, 73,
           17, 16, 17, 18)

layout = column(pa, letter("A", HA, 9), pb, letter("B", HB, 8),
                pc, letter("C", HC, 11), spacing=0)
open("out.html", "w").write(file_html(layout, INLINE))
